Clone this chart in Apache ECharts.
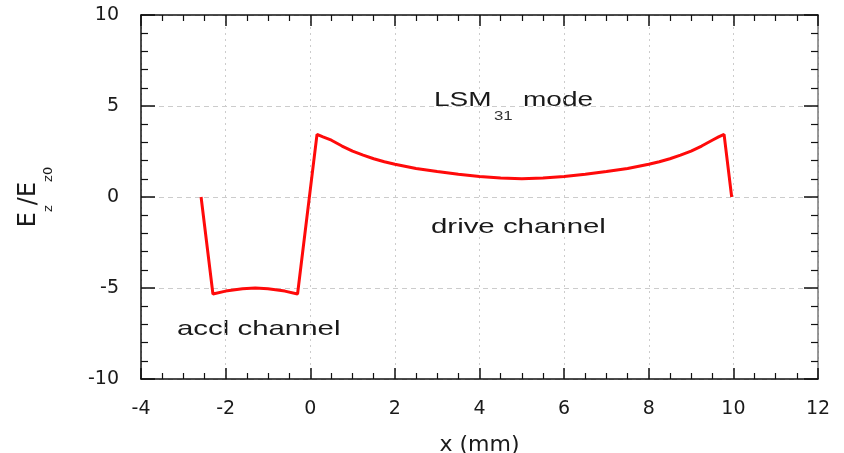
<!DOCTYPE html>
<html>
<head>
<meta charset="utf-8" />
<title></title>
<script src="https://cdn.jsdelivr.net/npm/echarts@6/dist/echarts.min.js"></script>
<style>
html, body { margin: 0; padding: 0; background: #fff; }
#main { width: 844px; height: 453px; }
</style>
</head>
<body>
<div id="main"></div>
<script type="text/javascript">
/* 曲线数据: x (mm) 与 Ez/Ez0 */
var xs = [-2.58, -2.3, -2.0, -1.6, -1.3, -1.0, -0.6, -0.3,
          0.16, 0.3, 0.5, 0.75, 1, 1.25, 1.5, 1.75, 2, 2.5, 3, 3.5, 4, 4.5, 5,
          5.5, 6, 6.5, 7, 7.5, 8, 8.25, 8.5, 8.75, 9, 9.25, 9.5, 9.65, 9.78, 9.96];
var ys = [0, -5.33, -5.17, -5.04, -5.0, -5.04, -5.17, -5.33,
          3.44, 3.3, 3.12, 2.8, 2.52, 2.3, 2.1, 1.94, 1.8, 1.57, 1.4, 1.25, 1.13, 1.04, 1.0,
          1.04, 1.13, 1.25, 1.4, 1.57, 1.8, 1.94, 2.1, 2.3, 2.52, 2.8, 3.12, 3.3, 3.44, 0];
var xTicks = [-4, -2, 0, 2, 4, 6, 8, 10, 12];
var yTicks = [-10, -5, 0, 5, 10];

var points = [];
for (var i = 0; i < xs.length; i++) {
    points.push([xs[i], ys[i]]);
}

var chart = echarts.init(document.getElementById('main'));
var labelFont = { fontFamily: 'DejaVu Sans', fontSize: 19, color: '#1a1a1a' };
var noteFont = 'Liberation Sans';

function frameAxis(pos, isX) {
    return {
        type: 'value', position: pos,
        min: isX ? xTicks[0] : yTicks[0],
        max: isX ? xTicks[xTicks.length - 1] : yTicks[yTicks.length - 1],
        interval: isX ? 2 : 5,
        axisLine: { onZero: false, lineStyle: { color: pos == 'right' ? '#777' : '#111', width: 1.5 } },
        axisTick: { inside: true, length: isX ? 11 : 14, lineStyle: { color: '#111', width: 1.5 } },
        minorTick: { show: true, splitNumber: isX ? 4 : 5, length: isX ? 6 : 7, lineStyle: { color: '#111', width: 1.2 } },
        axisLabel: { show: false },
        splitLine: { show: false }
    };
}

var xBottom = frameAxis('bottom', true);
xBottom.name = 'x (mm)';
xBottom.nameLocation = 'middle';
xBottom.nameGap = 55;
xBottom.nameTextStyle = { fontFamily: 'DejaVu Sans', fontSize: 22, color: '#1a1a1a' };
xBottom.axisLabel = Object.assign({ margin: 21 }, labelFont);
xBottom.splitLine = { show: true, lineStyle: { color: '#ccc', width: 1, type: [2, 4] } };

var yLeft = frameAxis('left', false);
yLeft.name = '{E|E}{s|z}{E|/E}{s|z0}';
yLeft.nameLocation = 'middle';
yLeft.nameGap = 86;
yLeft.nameTextStyle = {
    rich: {
        E: { fontFamily: 'DejaVu Sans', fontSize: 24, color: '#1a1a1a', lineHeight: 38, verticalAlign: 'top' },
        s: { fontFamily: 'DejaVu Sans', fontSize: 13, color: '#1a1a1a', lineHeight: 38, verticalAlign: 'bottom' }
    }
};
yLeft.axisLabel = Object.assign({ margin: 22 }, labelFont);
yLeft.splitLine = { show: true, lineStyle: { color: '#ccc', width: 1, type: [5, 4] } };

option = {
    animation: false,
    grid: { left: 141, right: 26, top: 15, bottom: 74, outerBoundsMode: 'none' },
    xAxis: [xBottom, frameAxis('top', true)],
    yAxis: [yLeft, frameAxis('right', false)],
    series: [{
        type: 'line',
        data: points,
        showSymbol: false,
        smooth: false,
        lineStyle: { color: '#ff0a0a', width: 3 },
        z: 5
    }],
    /* 图中文字注释 */
    graphic: [
        { type: 'text', x: 434, y: 100.8, scaleX: 1.4,
          style: { text: 'LSM', font: '20px ' + noteFont, fill: '#1a1a1a', verticalAlign: 'middle' } },
        { type: 'text', x: 494, y: 116.3, scaleX: 1.4,
          style: { text: '31', font: '12px ' + noteFont, fill: '#333', verticalAlign: 'middle' } },
        { type: 'text', x: 523, y: 100.8, scaleX: 1.4,
          style: { text: 'mode', font: '20px ' + noteFont, fill: '#1a1a1a', verticalAlign: 'middle' } },
        { type: 'text', x: 431, y: 226.8, scaleX: 1.4,
          style: { text: 'drive channel', font: '21px ' + noteFont, fill: '#1a1a1a', verticalAlign: 'middle' } },
        { type: 'text', x: 177, y: 329.5, scaleX: 1.4,
          style: { text: 'accl channel', font: '21px ' + noteFont, fill: '#1a1a1a', verticalAlign: 'middle' } }
    ]
};

chart.setOption(option);
window.onresize = chart.resize;
</script>
</body>
</html>
